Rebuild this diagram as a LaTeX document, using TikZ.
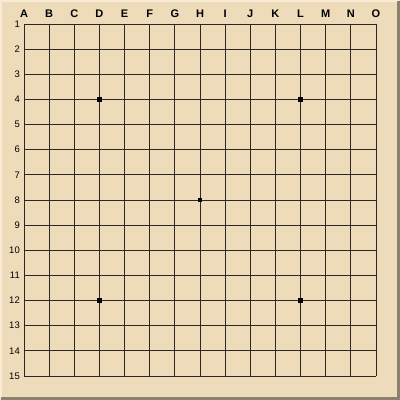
\documentclass[tikz,border=0pt]{standalone}
\usepackage{fontspec}
\setmainfont{Liberation Sans}
\usetikzlibrary{positioning}
\definecolor{woodtan}{RGB}{238, 219, 186}
\definecolor{woodlight}{RGB}{247, 235, 212}
\definecolor{frameshade}{RGB}{140, 128, 110}
\definecolor{gridink}{RGB}{45, 40, 34}
\tikzset{
 gridline/.style={draw=gridink, line width=0.8pt},
 collabel/.style={font=\bfseries\fontsize{11}{13}\selectfont, inner sep=0pt},
 rowlabel/.style={font=\fontsize{9.5}{11}\selectfont, inner sep=0pt, anchor=east},
 hoshi/.style={rectangle, fill=black, minimum size=4.5pt, inner sep=0pt}
}

\begin{document}
\begin{tikzpicture}[x=1pt, y=-1pt]
 \useasboundingbox (0,0) rectangle (400,400);
 % board
 \fill[woodtan] (0,0) rectangle (400,400);
 \draw[woodlight, line width=1.5pt] (0.75,399) -- (0.75,0.75) -- (399,0.75);
 \draw[frameshade, line width=3pt] (1,398.5) -- (398.5,398.5) -- (398.5,1);
 % lines
 \foreach \k in {0,...,14} {
 \draw[gridline] (24+\k*25.1429,24) -- (24+\k*25.1429,376);
 \draw[gridline] (24,24+\k*25.1429) -- (376,24+\k*25.1429);
 }
 % letters and numbers
 \foreach \c [count=\k from 0] in {A,B,C,D,E,F,G,H,I,J,K,L,M,N,O}
 \node[collabel] (col\c) at (24+\k*25.1429,13.5) {\c};
 \foreach \r in {1,...,15}
 \node[rowlabel] (row\r) at (20,24+\r*25.1429-25.1429) {\r};
 % star points
 \foreach \i/\j in {3/3, 11/3, 7/7, 3/11, 11/11}
 \node[hoshi] (star\i-\j) at (24+\i*25.1429,24+\j*25.1429) {};
\end{tikzpicture}
\end{document}
